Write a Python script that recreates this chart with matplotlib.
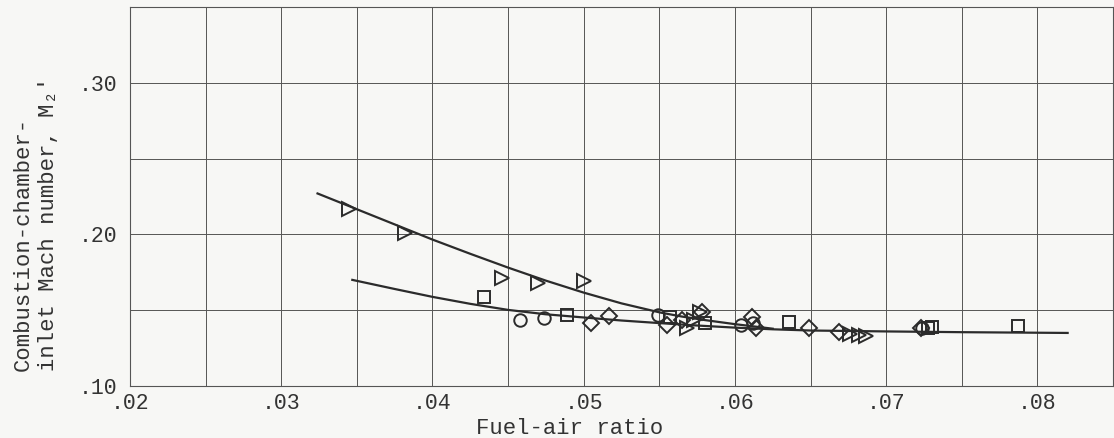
import matplotlib
matplotlib.use('Agg')
from matplotlib import pyplot as plt
from matplotlib.ticker import MultipleLocator

plt.rcParams['font.family'] = ['Liberation Mono', 'DejaVu Sans Mono']

# faired curves
upper_x = [.0324, .0340, .0360, .0380, .0400, .0425, .0450, .0475, .0500, .0525, .0550, .0565, .0580, .0600, .0625]
upper_y = [.2270, .2206, .2126, .2046, .1966, .1872, .1781, .1695, .1616, .1545, .1486, .1458, .1435, .1408, .1378]
lower_x = [.0347, .0375, .0400, .0425, .0450, .0475, .0500, .0525, .0550, .0575, .0600, .0625, .0650, .0700, .0750, .0820]
lower_y = [.1700, .1640, .1588, .1542, .1502, .1473, .1452, .1432, .1415, .1399, .1385, .1374, .1366, .1360, .1355, .1350]

# test points
tri_x = [.0345, .0382, .0446, .0470, .0500, .0568, .0573, .0577, .0676, .0682, .0687]
tri_y = [.217, .201, .171, .168, .169, .138, .1435, .1490, .1345, .1335, .1330]
sq_x = [.0434, .0489, .0557, .0580, .0636, .0728, .0730, .0787]
sq_y = [.1587, .1468, .1455, .1415, .1422, .1380, .1390, .1396]
circ_x = [.0458, .0474, .0549, .0604, .0612, .0724]
circ_y = [.1435, .1449, .1470, .1400, .1415, .1380]
dia_x = [.0505, .0517, .0555, .0565, .0578, .0611, .0614, .0649, .0669, .0723]
dia_y = [.1416, .1462, .1400, .1435, .1490, .1455, .1380, .1380, .1356, .1380]

xticks = [.02, .03, .04, .05, .06, .07, .08]
xlabels = ['.02', '.03', '.04', '.05', '.06', '.07', '.08']
yticks = [.10, .20, .30]
ylabels = ['.10', '.20', '.30']

ink = '#2b2b2b'
fig = plt.figure(figsize=(11.14, 4.38), dpi=100, facecolor='#f7f7f5')
ax = fig.add_axes([130/1114, 52/438, 983/1114, 379/438])
ax.set_facecolor('#f7f7f5')

ax.plot(upper_x, upper_y, color=ink, lw=1.6)
ax.plot(lower_x, lower_y, color=ink, lw=1.6)

mk = dict(linestyle='none', markerfacecolor='none', markeredgecolor=ink, markeredgewidth=1.4)
ax.plot(tri_x, tri_y, marker='>', markersize=10, **mk)
ax.plot(sq_x, sq_y, marker='s', markersize=9, **mk)
ax.plot(circ_x, circ_y, marker='o', markersize=9, **mk)
ax.plot(dia_x, dia_y, marker='D', markersize=8.5, **mk)

ax.set_xlim(.02, .085)
ax.set_ylim(.10, .35)
ax.set_xticks(xticks)
ax.set_xticklabels(xlabels)
ax.set_yticks(yticks)
ax.set_yticklabels(ylabels)
ax.xaxis.set_minor_locator(MultipleLocator(.005))
ax.yaxis.set_minor_locator(MultipleLocator(.05))
ax.grid(which='both', color='#555555', lw=0.7)
ax.set_axisbelow(True)
ax.tick_params(which='both', length=0, labelsize=15.5, colors='#333333')
ax.tick_params(axis='x', pad=5)
ax.tick_params(axis='y', pad=9)
for s in ax.spines.values():
    s.set_color('#555555')
    s.set_linewidth(0.8)

fig.text(570/1114, 4/438, 'Fuel-air ratio', ha='center', va='baseline',
         fontsize=16, color='#333333')
fig.text(36/1114, 1 - 371/438, "Combustion-chamber-\ninlet Mach number, M\u2082'",
         rotation=90, ha='center', va='bottom', multialignment='left',
         fontsize=16, color='#333333', linespacing=1.25)

plt.savefig('out.png', dpi=100, facecolor=fig.get_facecolor())
